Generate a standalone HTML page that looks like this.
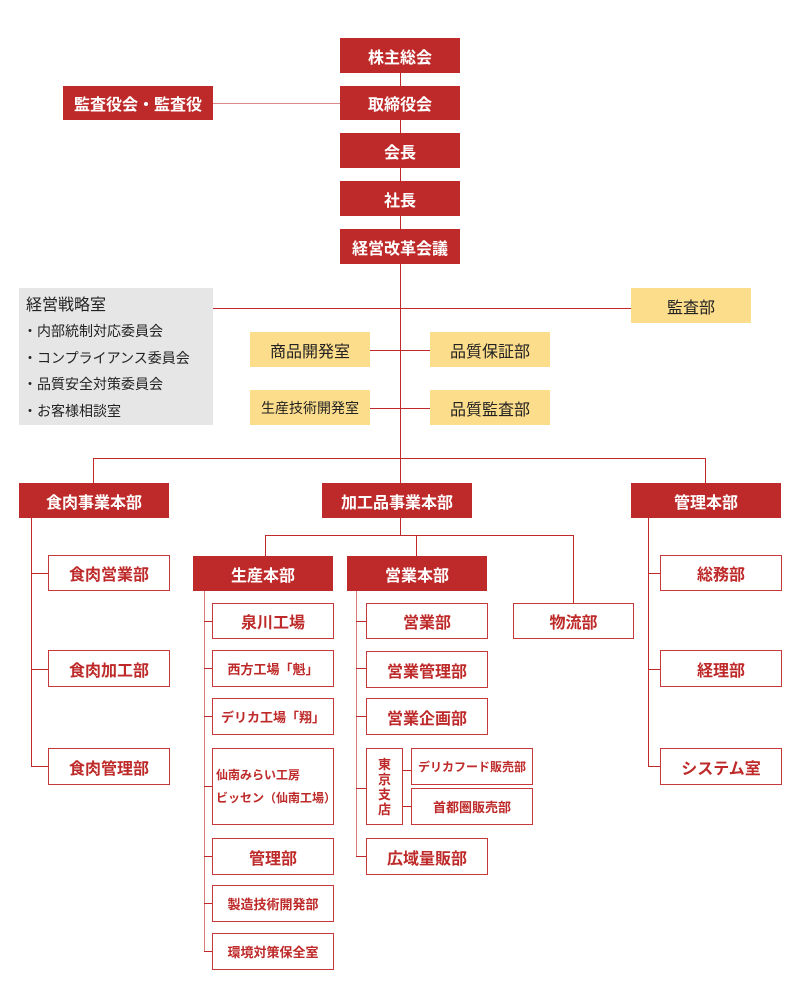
<!DOCTYPE html>
<html><head><meta charset="utf-8"><style>
body{margin:0;width:800px;height:1000px;background:#fff;position:relative;overflow:hidden;font-family:"Liberation Sans","Noto Sans CJK JP",sans-serif}
.b{position:absolute;display:flex;align-items:center;justify-content:center;box-sizing:border-box;white-space:nowrap}
.r{background:#be2a29;color:#fff;font-weight:bold;font-size:16px}
.y{background:#fcdd8c;color:#222;font-size:16px}
.o{background:#fff;border:1.5px solid #c8383a;color:#be2a29;font-size:16px;font-weight:bold}
.l{position:absolute;background:#c0282a}
</style></head><body>
<div class="l" style="left:400px;top:60px;width:1px;height:423px"></div>
<div class="l" style="left:213px;top:103px;width:127px;height:1px;background:#dd8888"></div>
<div class="l" style="left:213px;top:308px;width:418px;height:1px"></div>
<div class="l" style="left:370px;top:350px;width:60px;height:1px"></div>
<div class="l" style="left:370px;top:408px;width:60px;height:1px"></div>
<div class="l" style="left:93px;top:458px;width:613px;height:1px"></div>
<div class="l" style="left:93px;top:458px;width:1px;height:25px"></div>
<div class="l" style="left:705px;top:458px;width:1px;height:25px"></div>
<div class="l" style="left:31px;top:517px;width:1px;height:249px"></div>
<div class="l" style="left:31px;top:573px;width:18px;height:1px"></div>
<div class="l" style="left:31px;top:669px;width:18px;height:1px"></div>
<div class="l" style="left:31px;top:766px;width:18px;height:1px"></div>
<div class="l" style="left:648px;top:517px;width:1px;height:249px"></div>
<div class="l" style="left:648px;top:573px;width:12px;height:1px"></div>
<div class="l" style="left:648px;top:669px;width:12px;height:1px"></div>
<div class="l" style="left:648px;top:766px;width:12px;height:1px"></div>
<div class="l" style="left:400px;top:517px;width:1px;height:18px"></div>
<div class="l" style="left:265px;top:535px;width:309px;height:1px"></div>
<div class="l" style="left:265px;top:535px;width:1px;height:21px"></div>
<div class="l" style="left:416px;top:535px;width:1px;height:21px"></div>
<div class="l" style="left:573px;top:535px;width:1px;height:68px"></div>
<div class="l" style="left:204px;top:590px;width:1px;height:362px;background:#d97b7b"></div>
<div class="l" style="left:204px;top:621px;width:8px;height:1px"></div>
<div class="l" style="left:204px;top:668px;width:8px;height:1px"></div>
<div class="l" style="left:204px;top:716px;width:8px;height:1px"></div>
<div class="l" style="left:204px;top:786px;width:8px;height:1px"></div>
<div class="l" style="left:204px;top:856px;width:8px;height:1px"></div>
<div class="l" style="left:204px;top:903px;width:8px;height:1px"></div>
<div class="l" style="left:204px;top:951px;width:8px;height:1px"></div>
<div class="l" style="left:356px;top:590px;width:1px;height:266px;background:#d97b7b"></div>
<div class="l" style="left:356px;top:621px;width:10px;height:1px"></div>
<div class="l" style="left:356px;top:668px;width:10px;height:1px"></div>
<div class="l" style="left:356px;top:716px;width:10px;height:1px"></div>
<div class="l" style="left:356px;top:788px;width:10px;height:1px"></div>
<div class="l" style="left:356px;top:856px;width:10px;height:1px"></div>
<div class="l" style="left:402px;top:770px;width:9px;height:1px"></div>
<div class="l" style="left:402px;top:806px;width:9px;height:1px"></div>

<div class="b r" style="left:340px;top:38px;width:120px;height:35px">株主総会</div>
<div class="b r" style="left:340px;top:86px;width:120px;height:34px">取締役会</div>
<div class="b r" style="left:340px;top:133px;width:120px;height:35px">会長</div>
<div class="b r" style="left:340px;top:181px;width:120px;height:35px">社長</div>
<div class="b r" style="left:340px;top:229px;width:120px;height:35px">経営改革会議</div>
<div class="b r" style="left:63px;top:86px;width:150px;height:34px">監査役会・監査役</div>

<div style="position:absolute;left:19px;top:288px;width:194px;height:137px;background:#e6e6e6;color:#222">
<div style="position:absolute;left:7px;top:3px;font-size:16px">経営戦略室</div>
<div style="position:absolute;left:4px;top:30px;font-size:14px;line-height:26.5px;white-space:nowrap">・内部統制対応委員会<br>・コンプライアンス委員会<br>・品質安全対策委員会<br>・お客様相談室</div>
</div>
<div class="b y" style="left:631px;top:288px;width:120px;height:35px">監査部</div>
<div class="b y" style="left:250px;top:332px;width:120px;height:35px">商品開発室</div>
<div class="b y" style="left:430px;top:332px;width:120px;height:35px">品質保証部</div>
<div class="b y" style="left:250px;top:390px;width:120px;height:35px;font-size:14px">生産技術開発室</div>
<div class="b y" style="left:430px;top:390px;width:120px;height:35px">品質監査部</div>

<div class="b r" style="left:19px;top:483px;width:150px;height:35px">食肉事業本部</div>
<div class="b r" style="left:322px;top:483px;width:150px;height:35px">加工品事業本部</div>
<div class="b r" style="left:631px;top:483px;width:150px;height:35px">管理本部</div>

<div class="b o" style="left:48px;top:555px;width:122px;height:36px">食肉営業部</div>
<div class="b o" style="left:48px;top:650px;width:122px;height:37px">食肉加工部</div>
<div class="b o" style="left:48px;top:748px;width:122px;height:37px">食肉管理部</div>

<div class="b o" style="left:660px;top:555px;width:122px;height:36px">総務部</div>
<div class="b o" style="left:660px;top:650px;width:122px;height:37px">経理部</div>
<div class="b o" style="left:660px;top:748px;width:122px;height:37px">システム室</div>

<div class="b r" style="left:193px;top:556px;width:140px;height:35px">生産本部</div>
<div class="b r" style="left:347px;top:556px;width:140px;height:35px">営業本部</div>
<div class="b o" style="left:513px;top:603px;width:121px;height:36px">物流部</div>

<div class="b o" style="left:212px;top:603px;width:122px;height:36px">泉川工場</div>
<div class="b o" style="left:212px;top:650px;width:122px;height:37px;font-size:13px">西方工場「魁」</div>
<div class="b o" style="left:212px;top:698px;width:122px;height:37px;font-size:13px">デリカ工場「翔」</div>
<div class="b o" style="left:212px;top:748px;width:122px;height:77px;font-size:12px;justify-content:flex-start;padding-left:3px;line-height:23px;white-space:normal">仙南みらい工房<br>ビッセン（仙南工場）</div>
<div class="b o" style="left:212px;top:838px;width:122px;height:37px">管理部</div>
<div class="b o" style="left:212px;top:885px;width:122px;height:37px;font-size:13px">製造技術開発部</div>
<div class="b o" style="left:212px;top:933px;width:122px;height:37px;font-size:13px">環境対策保全室</div>

<div class="b o" style="left:366px;top:603px;width:122px;height:36px">営業部</div>
<div class="b o" style="left:366px;top:651px;width:122px;height:37px">営業管理部</div>
<div class="b o" style="left:366px;top:698px;width:122px;height:37px">営業企画部</div>
<div class="b o" style="left:366px;top:748px;width:37px;height:77px;font-size:13px;line-height:15px;white-space:normal;text-align:center;padding:0 10px">東京支店</div>
<div class="b o" style="left:411px;top:748px;width:122px;height:37px;font-size:12px">デリカフード販売部</div>
<div class="b o" style="left:411px;top:788px;width:122px;height:37px;font-size:13px">首都圏販売部</div>
<div class="b o" style="left:366px;top:838px;width:122px;height:37px">広域量販部</div>
</body></html>
